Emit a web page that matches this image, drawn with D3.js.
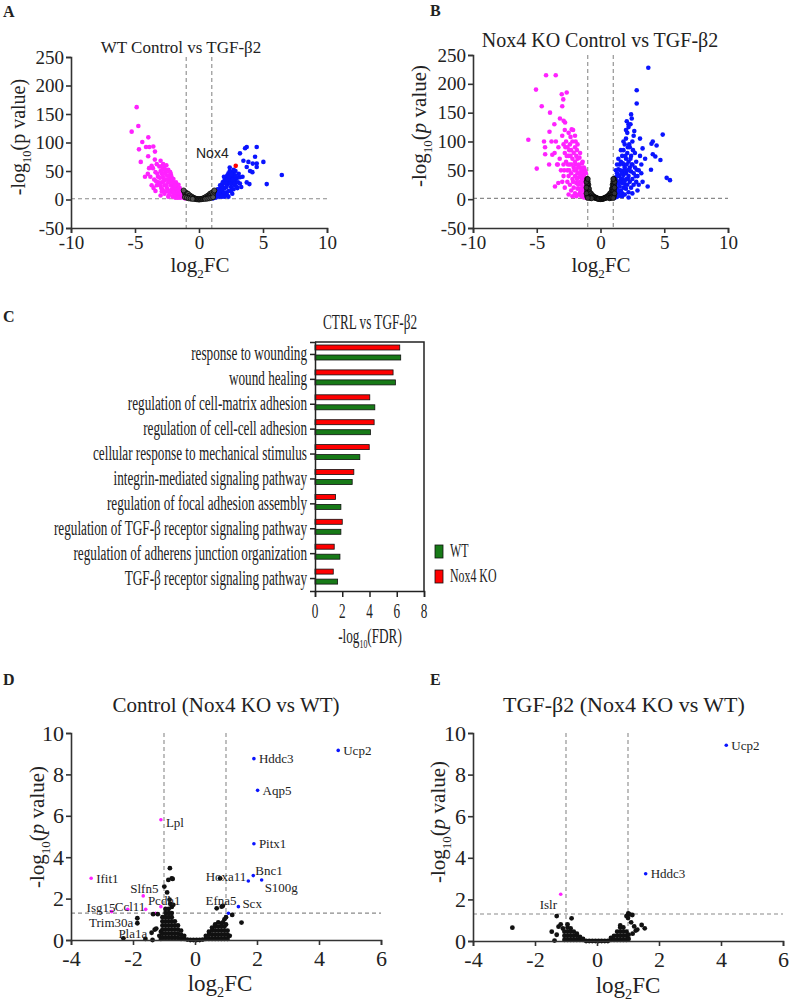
<!DOCTYPE html>
<html><head><meta charset="utf-8">
<script src="https://cdn.jsdelivr.net/npm/d3@7"></script>
<style>
body{margin:0;background:#fff}
svg{display:block}
text{font-family:"Liberation Serif","Times New Roman",serif;fill:#222}
</style>
</head><body>
<svg id="c" width="791" height="1005"></svg>
<script>
// ---------------- DATA ----------------
// Panel A: WT Control vs TGF-β2  [log2FC, -log10 p]
const A_down = [[-4.87,162],[-4.74,129],[-5.26,119],[-3.96,109],[-4.43,101],[-4.14,92],[-3.88,92],[-3.57,93],[-4.69,88],[-3.44,84],[-3.97,76],[-4.55,66],[-3.7,59],[-4.22,40],[-2.91,14],[-3.0,7],
 [-3.6,55],[-3.4,48],[-3.3,62],[-3.2,40],[-3.1,58],[-3.0,68],[-3.0,50],[-2.9,45],[-2.9,30],[-2.8,62],[-2.8,38],[-2.7,55],[-2.7,25],[-2.6,48],[-2.6,35],[-2.5,42],[-2.5,20],[-2.4,52],[-2.4,30],[-2.3,38],[-2.3,15],[-2.2,44],[-2.2,25],[-2.1,32],[-2.1,12],[-2.0,36],[-2.0,20],[-1.9,28],[-1.9,10],[-1.8,30],[-1.8,15],[-1.7,22],[-1.7,8],[-1.6,18],[-1.6,26],[-1.5,12],[-1.5,20],[-1.4,8],[-1.4,15],[-1.3,5],[-1.3,12],[-1.2,3],[-1.2,9],[-1.1,2],[-1.1,6],[-3.3,25],[-3.5,35],[-3.8,40],[-3.9,55],[-3.4,15],[-2.95,20],[-2.65,14],[-2.35,8],[-2.05,5],[-1.85,3],[-2.55,60],[-3.15,30],[-2.75,45],[-2.45,35],[-2.15,18],[-1.95,14],[-1.75,18],[-1.55,6],[-1.45,3],[-3.05,38],[-2.85,52],[-2.25,48],[-4.0,45],[-3.7,25],
 [-3.25,45],[-3.05,25],[-2.95,58],[-2.85,18],[-2.75,32],[-2.65,52],[-2.55,25],[-2.45,15],[-2.35,42],[-2.25,32],[-2.15,40],[-2.05,28],[-1.95,22],[-1.85,25],[-1.75,12],[-1.65,14],[-1.55,16],[-1.45,10],[-1.35,8],[-1.25,6],[-1.15,4],[-3.35,32],[-3.55,20],[-3.45,70],[-2.7,10],[-2.4,5],[-2.0,12],[-1.65,3]];
const A_up = [[3.73,92],[4.51,92],[3.6,90],[3.2,81],[4.38,75],[3.47,68],[3.86,66],[5.03,66],[4.2,63],[4.51,63],[3.73,57],[4.51,57],[3.99,50],[4.17,48],[6.47,43],[3.2,39],[3.73,30],[5.29,27],[3.94,27],
 [1.1,2],[1.15,6],[1.2,4],[1.3,8],[1.3,3],[1.4,12],[1.4,6],[1.5,15],[1.5,9],[1.6,18],[1.6,5],[1.7,22],[1.7,12],[1.8,26],[1.8,16],[1.9,30],[1.9,8],[2.0,34],[2.0,20],[2.1,38],[2.1,12],[2.2,42],[2.2,26],[2.3,46],[2.3,30],[2.3,15],[2.4,50],[2.4,36],[2.5,48],[2.5,22],[2.6,40],[2.6,28],[2.7,45],[2.7,18],[2.8,35],[2.8,25],[2.9,30],[3.0,38],[3.0,20],[3.2,28],[2.2,8],[2.6,10],[1.95,40],[2.45,42],[2.85,50],[3.1,45],[3.4,40],[3.3,22],[2.0,5],[1.6,10],[1.85,20],[2.15,32],[2.55,33],[2.75,38],
 [1.25,10],[1.35,5],[1.45,18],[1.55,12],[1.65,25],[1.75,16],[1.85,30],[1.95,12],[2.05,28],[2.15,22],[2.25,36],[2.35,40],[2.45,28],[2.55,44],[2.65,34],[2.75,28],[2.85,42],[2.95,22],[3.05,30],[2.3,5],[1.8,5],[2.5,15],[2.7,52],[2.4,56]];
const A_ns = [[-1.15,14],[-1.1,10],[-1.05,6],[-1.0,12],[-0.95,9],[-0.9,7],[-0.85,10],[-0.8,6],[-0.75,5],[-0.7,7],[-0.65,4],[-0.6,3],[-0.55,5],[-0.5,2.5],[-0.45,2],[-0.4,3],[-0.35,1.5],[-0.3,1],[-0.25,1.5],[-0.2,0.5],[-0.15,0.8],[-0.1,0.3],[-0.05,0.5],[0,0],[0.05,0.4],[0.1,0.3],[0.15,0.8],[0.2,0.5],[0.25,1.5],[0.3,1],[0.35,1.5],[0.4,3],[0.45,2],[0.5,2.5],[0.55,5],[0.6,3],[0.65,4],[0.7,7],[0.75,5],[0.8,6],[0.85,10],[0.9,7],[0.95,9],[1.0,12],[1.05,6],[1.1,10],[1.15,14],
 [-1.2,16],[-1.1,4],[-0.95,3],[-0.8,2],[-0.65,1.5],[-0.5,1],[0.5,1],[0.65,1.5],[0.8,2],[0.95,3],[1.1,4],[1.2,16]];
const A_hl = [[2.87,59]];
const A_hlName = ["Nox4"];

// Panel B: Nox4 KO Control vs TGF-β2
const B_down = [[-4.27,215],[-3.51,215],[-5.06,190],[-2.65,185],[-3.04,182],[-2.92,173],[-3.0,161],[-4.61,161],[-3.96,150],[-3.18,140],[-2.89,136],[-2.78,133],[-3.62,130],[-4.0,117],[-2.26,121],[-5.66,103],[-4.43,100],[-3.84,100],[-3.5,100],[-4.35,90],[-3.78,77],[-5.0,53],[-3.57,22],[-3.31,28],[-4.03,60],[-3.35,60],[-4.34,78],
 [-3.0,110],[-2.9,95],[-2.8,120],[-2.8,80],[-2.7,100],[-2.7,65],[-2.6,90],[-2.6,50],[-2.5,115],[-2.5,75],[-2.5,40],[-2.4,95],[-2.4,60],[-2.4,25],[-2.3,85],[-2.3,45],[-2.3,15],[-2.2,100],[-2.2,70],[-2.2,35],[-2.1,80],[-2.1,55],[-2.1,20],[-2.0,90],[-2.0,65],[-2.0,40],[-2.0,10],[-1.9,75],[-1.9,50],[-1.9,28],[-1.8,70],[-1.8,45],[-1.8,18],[-1.7,60],[-1.7,38],[-1.7,8],[-1.6,55],[-1.6,30],[-1.6,12],[-1.5,50],[-1.5,25],[-1.5,5],[-1.4,45],[-1.4,20],[-1.3,40],[-1.3,15],[-1.3,3],[-1.2,35],[-1.2,22],[-1.2,8],[-1.1,30],[-1.1,12],[-1.1,2],[-3.2,70],[-3.1,50],[-3.0,30],[-2.9,60],[-2.8,20],[-2.6,30],[-2.9,40],[-3.3,90],[-2.35,108],[-2.15,120],[-1.95,100],[-1.85,85],[-1.65,72],[-1.45,62],[-1.25,52],[-1.15,45],[-1.35,30],[-1.55,40],[-1.75,25],[-2.45,50],[-2.65,75],[-3.4,60],[-3.6,80],
 [-1.15,20],[-1.25,30],[-1.35,8],[-1.45,35],[-1.55,18],[-1.65,45],[-1.75,55],[-1.85,35],[-1.95,60],[-2.05,50],[-2.15,30],[-2.25,60],[-2.35,75],[-2.45,85],[-2.55,60],[-2.75,90],[-2.85,50],[-1.4,65],[-1.6,80],[-1.3,55],[-1.2,48],[-1.8,95],[-2.0,110],[-1.5,15],[-1.7,28],[-1.9,5],[-2.5,8],[-2.2,5]];
const B_up = [[3.75,228],[2.84,189],[2.84,166],[2.4,147],[2.06,135],[2.2,130],[4.88,112],[3.1,105],[4.1,100],[4.0,96],[4.4,93],[4.3,74],[4.1,78],[4.7,68],[3.96,51],[5.19,37],[5.45,33],[3.7,22],[2.84,51],[3.5,70],[3.3,88],[2.6,110],
 [1.1,2],[1.1,15],[1.1,30],[1.2,8],[1.2,25],[1.2,38],[1.3,4],[1.3,18],[1.3,45],[1.4,12],[1.4,30],[1.4,52],[1.5,6],[1.5,22],[1.5,40],[1.5,60],[1.6,15],[1.6,35],[1.6,65],[1.7,10],[1.7,28],[1.7,48],[1.7,75],[1.8,20],[1.8,42],[1.8,60],[1.8,85],[1.9,8],[1.9,32],[1.9,55],[1.9,95],[2.0,18],[2.0,45],[2.0,70],[2.0,105],[2.1,25],[2.1,50],[2.1,80],[2.1,115],[2.2,12],[2.2,40],[2.2,65],[2.2,125],[2.3,30],[2.3,55],[2.3,90],[2.4,20],[2.4,48],[2.4,75],[2.5,35],[2.5,60],[2.5,100],[2.6,25],[2.6,45],[2.7,55],[2.7,80],[2.8,30],[2.8,65],[2.9,40],[3.0,50],[3.0,25],[3.1,75],[3.2,60],[3.3,30],[3.2,45],[2.65,118],[2.35,130],[2.45,140],[1.75,35],[1.85,50],[2.05,60],[1.95,25],[2.15,35],[2.25,95],
 [1.15,22],[1.25,32],[1.35,40],[1.45,28],[1.55,50],[1.65,45],[1.75,62],[1.85,30],[1.95,75],[2.05,35],[2.15,90],[2.25,50],[2.35,70],[2.45,60],[2.55,85],[2.75,40],[1.4,70],[1.6,85],[1.3,60],[1.2,50],[1.8,100],[2.0,120],[1.5,30],[1.7,5],[2.5,10],[2.2,3],[2.9,15]];
const B_ns = [[-1.05,35],[-1.0,30],[-0.95,25],[-1.05,25],[-1.0,20],[-0.95,15],[-1.05,15],[-1.0,10],[-0.95,5],[-1.05,5],[-0.9,18],[-0.9,8],[-0.85,12],[-0.8,8],[-0.75,10],[-0.7,5],[-0.65,7],[-0.6,4],[-0.55,5],[-0.5,3],[-0.45,3.5],[-0.4,2],[-0.35,2.5],[-0.3,1.5],[-0.25,1],[-0.2,1],[-0.15,0.5],[-0.1,0.3],[0,0],[0.1,0.3],[0.15,0.5],[0.2,1],[0.25,1],[0.3,1.5],[0.35,2.5],[0.4,2],[0.45,3.5],[0.5,3],[0.55,5],[0.6,4],[0.65,7],[0.7,5],[0.75,10],[0.8,8],[0.85,12],[0.9,8],[0.9,18],[0.95,5],[1.05,5],[1.0,10],[0.95,15],[1.05,15],[1.0,20],[0.95,25],[1.05,25],[1.0,30],[1.05,35],
 [-1.1,30],[-1.1,20],[-1.1,10],[1.1,30],[1.1,20],[1.1,10],[-1.0,35],[1.0,35],[-0.9,3],[-0.8,2],[-0.7,1.5],[0.7,1.5],[0.8,2],[0.9,3],[-1.0,2],[1.0,2]];

// Panel C: GO terms, -log10(FDR)
const goTerms = ["response to wounding","wound healing","regulation of cell-matrix adhesion","regulation of cell-cell adhesion","cellular response to mechanical stimulus","integrin-mediated signaling pathway","regulation of focal adhesion assembly","regulation of TGF-β receptor signaling pathway","regulation of adherens junction organization","TGF-β receptor signaling pathway"];
const goKO = [6.22,5.73,4.02,4.34,3.98,2.85,1.51,2.0,1.41,1.34];
const goWT = [6.29,5.9,4.39,4.07,3.29,2.73,1.9,1.9,1.83,1.66];
const goSeries = ["Nox4 KO","WT"];
const goTicks = [0,2,4,6,8];

// Panel D: Control (Nox4 KO vs WT)
const D_upGenes = ["Ucp2","Hddc3","Aqp5","Pitx1","Bnc1","Hoxa11","S100g","Scx","Efna5"];
const D_up = [[4.62,9.16],[1.90,8.76],[2.02,7.23],[1.90,4.65],[1.88,3.11],[1.72,2.85],[2.15,2.90],[1.40,1.61],[1.08,1.29]];
const D_downGenes = ["Lpl","Ifit1","Slfn5","Pcdh1","Ccl11","Isg15","",""];
const D_down = [[-1.10,5.81],[-3.35,2.98],[-1.67,2.13],[-1.10,1.61],[-2.17,1.48],[-2.69,1.37],[-1.59,1.48],[-1.27,1.29]];
const D_nsGenes = ["Trim30a","Pla1a"];
const D_nsLab = [[-1.86,0.81],[-2.31,0.08]];
const D_ns = [[-0.81,3.47],[-0.86,2.9],[-0.75,2.98],[-0.72,2.95],[-0.99,2.58],[-0.9,2.3],[-0.82,1.95],[-0.8,1.75],[-0.75,1.6],[-0.7,1.7],[-1.86,1.05],[-1.37,0.0],[-1.3,0.5],[-1.25,0.55],[-1.35,1.25],[-1.2,1.25],[-1.4,0.35],[-1.15,0.2],[-1.1,0.4],[-1.6,0.05],[-1.1,0.05],
 [-1.05,0.1],[-1.05,0.3],[-1.05,0.5],[-1.05,0.7],[-1.05,0.9],[-1.05,1.1],
 [-0.95,0.1],[-0.95,0.3],[-0.95,0.5],[-0.95,0.7],[-0.95,0.9],[-0.95,1.1],[-0.95,1.3],[-0.95,1.5],
 [-0.85,0.1],[-0.85,0.3],[-0.85,0.5],[-0.85,0.7],[-0.85,0.9],[-0.85,1.1],[-0.85,1.3],[-0.85,1.5],
 [-0.75,0.1],[-0.75,0.3],[-0.75,0.5],[-0.75,0.7],[-0.75,0.9],[-0.75,1.1],[-0.75,1.3],
 [-0.65,0.1],[-0.65,0.3],[-0.65,0.5],[-0.65,0.7],[-0.65,0.9],
 [-0.55,0.1],[-0.55,0.3],[-0.55,0.5],[-0.55,0.7],
 [-0.45,0.05],[-0.45,0.25],[-0.45,0.45],
 [-0.35,0.05],[-0.35,0.2],
 [-0.25,0.02],[-0.15,0],[-0.05,0],[0.05,0],[0.15,0],[0.25,0.02],
 [0.35,0.05],[0.35,0.2],
 [0.45,0.05],[0.45,0.25],[0.45,0.4],
 [0.55,0.05],[0.55,0.25],[0.55,0.45],[0.55,0.6],
 [0.65,0.05],[0.65,0.25],[0.65,0.45],[0.65,0.65],[0.65,0.75],
 [0.75,0.05],[0.75,0.25],[0.75,0.45],[0.75,0.65],[0.75,0.85],
 [0.85,0.05],[0.85,0.25],[0.85,0.45],[0.85,0.65],[0.85,0.8],
 [0.95,0.05],[0.95,0.25],[0.95,0.45],[0.95,0.65],
 [1.05,0.05],[1.05,0.25],[1.05,0.45],[1.12,0.2],[0.9,0.85],[1.0,0.75],
 [0.70,1.53],[0.86,1.61],[0.81,2.98],[0.9,1.65],[1.2,1.21],[1.5,0.84],[1.0,1.1],[0.95,1.0]];

// Panel E: TGF-β2 (Nox4 KO vs WT)
const E_upGenes = ["Ucp2","Hddc3"];
const E_up = [[4.17,9.41],[1.57,3.23]];
const E_downGenes = ["Islr"];
const E_down = [[-1.17,2.25]];
const E_ns = [[-2.73,0.64],[-1.30,1.2],[-1.46,0.45],[-1.37,0.02],[-1.24,0.69],[-1.17,0.8],[-0.82,1.09],[-1.3,0.3],[-1.1,0.6],
 [1.01,1.33],[1.05,1.28],[1.14,1.25],[1.44,0.77],[1.54,0.61],[1.2,0.7],[1.25,0.5],[1.1,0.9],[1.3,0.55],[1.15,0.35],
 [-1.05,0.05],[-1.05,0.25],[-1.05,0.45],
 [-0.95,0.05],[-0.95,0.25],[-0.95,0.45],[-0.95,0.65],[-0.95,0.8],
 [-0.85,0.05],[-0.85,0.25],[-0.85,0.45],[-0.85,0.6],
 [-0.75,0.05],[-0.75,0.25],[-0.75,0.45],
 [-0.65,0.05],[-0.65,0.25],[-0.65,0.35],
 [-0.55,0.05],[-0.55,0.2],
 [-0.45,0.05],[-0.45,0.1],
 [-0.35,0],[-0.25,0],[-0.15,0],[-0.05,0],[0.05,0],[0.15,0],[0.25,0],[0.35,0],
 [0.45,0.05],[0.45,0.15],
 [0.55,0.05],[0.55,0.25],
 [0.65,0.05],[0.65,0.25],[0.65,0.45],
 [0.75,0.05],[0.75,0.25],[0.75,0.45],[0.75,0.65],[0.75,0.75],
 [0.85,0.05],[0.85,0.25],[0.85,0.45],[0.85,0.65],
 [0.95,0.05],[0.95,0.25],[0.95,0.45],
 [1.02,0.1],[1.02,0.3],[1.0,1.1],[0.95,1.2]];

// tick values
const wideXTicks = [-10,-5,0,5,10];
const wideYTicks = [-50,0,50,100,150,200,250];
const narrowXTicks = [-4,-2,0,2,4,6];
const narrowYTicks = [0,2,4,6,8,10];

// ---------------- DRAW ----------------
const svg = d3.select("#c");
const MAG = "#ff22ff", BLU = "#0a14ff", RED = "#ff0000";

// label placement offsets (px) — styling only
const labelPos = {
  Ucp2:[5,0,"start"],Hddc3:[5,0,"start"],Aqp5:[5,0,"start"],Lpl:[5,3,"start"],Pitx1:[5,0,"start"],
  Bnc1:[2,-5,"start"],Hoxa11:[-2,-5,"end"],S100g:[3,7,"start"],Ifit1:[5,0,"start"],Slfn5:[-13,-7,"start"],
  Pcdh1:[-13,-6,"start"],Ccl11:[-13,-3,"start"],Isg15:[-25,-4,"start"],Trim30a:[-4,-1,"end"],Pla1a:[-5,-5,"start"],
  Efna5:[-23,-13,"start"],Scx:[4,-3,"start"],Islr:[-21,10,"start"]
};

function ylabel(g, cx, cy, fs, italicP){
  const t = g.append("text").attr("transform","rotate(-90)").attr("x",-cy).attr("y",cx)
    .attr("text-anchor","middle").style("font-size",fs+"px");
  t.append("tspan").text("-log");
  t.append("tspan").text("10").style("font-size",(fs*0.62)+"px").attr("dy",fs*0.28);
  t.append("tspan").text("(").attr("dy",-fs*0.28);
  t.append("tspan").text("p").style("font-style",italicP?"italic":"normal");
  t.append("tspan").text(" value)");
}
function xlabel(g, cx, by, fs){
  const t = g.append("text").attr("x",cx).attr("y",by).attr("text-anchor","middle").style("font-size",fs+"px");
  t.append("tspan").text("log");
  t.append("tspan").text("2").style("font-size",(fs*0.62)+"px").attr("dy",fs*0.28);
  t.append("tspan").text("FC").attr("dy",-fs*0.28);
}

function volcano(o){
  const g = svg.append("g");
  const x = d3.scaleLinear().domain(o.xd).range([o.l,o.r]);
  const y = d3.scaleLinear().domain(o.yd).range([o.b,o.t]);
  const dash = {stroke:"#8a8a8a","stroke-width":1.1,"stroke-dasharray":"4,3"};
  const dl = (x1,y1,x2,y2)=>{const l=g.append("line").attr("x1",x1).attr("y1",y1).attr("x2",x2).attr("y2",y2);for(const k in dash)l.attr(k,dash[k]);};
  dl(x(-1),o.t,x(-1),o.b); dl(x(1),o.t,x(1),o.b); dl(o.l,y(1.3),o.r,y(1.3));
  const dots = (arr, col, rad, stroke) => g.append("g").selectAll("circle").data(arr).join("circle")
      .attr("cx",d=>x(d[0])).attr("cy",d=>y(d[1])).attr("r",rad).attr("fill",col)
      .attr("stroke",stroke||"none").attr("stroke-width",0.7);
  dots(o.down,MAG,o.rad);
  dots(o.up,BLU,o.rad);
  if(o.hl) dots(o.hl,RED,o.rad);
  dots(o.ns,o.nsFill||"#111",o.nsRad,o.nsStroke);
  if(o.nsLab) dots(o.nsLab,"#111",o.nsRad);
  // axes
  const fmt = d=>String(d);
  const xa = g.append("g").attr("transform",`translate(0,${o.b})`)
    .call(d3.axisBottom(x).tickValues(o.xt).tickSize(5).tickPadding(o.xpad).tickFormat(fmt));
  const ya = g.append("g").attr("transform",`translate(${o.l},0)`)
    .call(d3.axisLeft(y).tickValues(o.yt).tickSize(5).tickPadding(2).tickFormat(fmt));
  [xa,ya].forEach(a=>{
    a.selectAll("path,line").attr("stroke","#333").attr("stroke-width",1.6);
    a.selectAll("text").style("font-size",o.tfs+"px").style("font-family",'"Liberation Serif",serif').attr("fill","#222");
  });
  // gene labels
  const lab = (names, arr) => names.forEach((n,i)=>{
    if(!n||!labelPos[n]) return;
    const p = labelPos[n];
    g.append("text").attr("x",x(arr[i][0])+p[0]).attr("y",y(arr[i][1])+p[1]).attr("dy","0.35em")
      .attr("text-anchor",p[2]).style("font-size","13px").attr("fill","#333").text(n);
  });
  if(o.upGenes) lab(o.upGenes,o.up);
  if(o.downGenes) lab(o.downGenes,o.down);
  if(o.nsGenes) lab(o.nsGenes,o.nsLab);
  return {g,x,y};
}

// Panel A
const pA = volcano({l:71,r:327,t:57,b:228,xd:[-10,10],yd:[-50,250],xt:wideXTicks,yt:wideYTicks,tfs:19,xpad:3,rad:2.3,nsRad:2.5,nsFill:"#555",nsStroke:"#000",
  down:A_down,up:A_up,ns:A_ns,hl:A_hl});
pA.g.append("text").attr("x",196).attr("y",158).style("font-family",'"Liberation Sans",Arial,sans-serif')
  .style("font-size","14px").attr("fill","#111").text(A_hlName[0]);
svg.append("text").attr("x",181).attr("y",53).attr("text-anchor","middle").style("font-size","17px").text("WT Control vs TGF-β2");
ylabel(svg,25,137,20,false);
xlabel(svg,200,272,21);

// Panel B
volcano({l:473,r:728,t:55,b:228,xd:[-10,10],yd:[-50,250],xt:wideXTicks,yt:wideYTicks,tfs:19,xpad:3,rad:2.3,nsRad:2.5,nsFill:"#333",nsStroke:"#000",
  down:B_down,up:B_up,ns:B_ns});
svg.append("text").attr("x",600).attr("y",47).attr("text-anchor","middle").style("font-size","20px").text("Nox4 KO Control vs TGF-β2");
ylabel(svg,426,126,21,true);
xlabel(svg,601,272,21);

// Panel D
volcano({l:71,r:381,t:733,b:940,xd:[-4,6],yd:[0,10],xt:narrowXTicks,yt:narrowYTicks,tfs:22,xpad:5,rad:1.8,nsRad:2.4,
  down:D_down,up:D_up,ns:D_ns,nsLab:D_nsLab,upGenes:D_upGenes,downGenes:D_downGenes,nsGenes:D_nsGenes});
svg.append("text").attr("x",226).attr("y",712).attr("text-anchor","middle").style("font-size","21px").text("Control (Nox4 KO vs WT)");
ylabel(svg,44,827,21,true);
xlabel(svg,220,991,23);

// Panel E
volcano({l:473,r:783,t:733,b:941,xd:[-4,6],yd:[0,10],xt:narrowXTicks,yt:narrowYTicks,tfs:22,xpad:5,rad:1.8,nsRad:2.4,
  down:E_down,up:E_up,ns:E_ns,upGenes:E_upGenes,downGenes:E_downGenes});
svg.append("text").attr("x",624).attr("y",712).attr("text-anchor","middle").style("font-size","22px").text("TGF-β2 (Nox4 KO vs WT)");
ylabel(svg,445,822,21,true);
xlabel(svg,628,993,23);

// Panel C
(function(){
  const L=315,R=424,T=342,B=591, SX=0.66;
  const g = svg.append("g");
  const x = d3.scaleLinear().domain([0,8]).range([L,R]);
  const yb = d3.scaleBand().domain(goTerms).range([T,B]);
  const ys = d3.scaleBand().domain(goSeries).range([3,18]).paddingInner(0.5);
  const colors = {"Nox4 KO":RED,"WT":"#177a17"};
  const rows = goTerms.map((t,i)=>({t,v:{"Nox4 KO":goKO[i],"WT":goWT[i]}}));
  rows.forEach(r=>{
    goSeries.forEach(s=>{
      g.append("rect").attr("x",x(0)).attr("y",yb(r.t)+ys(s)).attr("width",x(r.v[s])-x(0)).attr("height",ys.bandwidth())
        .attr("fill",colors[s]).attr("stroke","#111").attr("stroke-width",0.8);
    });
  });
  // frame
  g.append("path").attr("d",`M${L},${T}H${R}V${B}`).attr("fill","none").attr("stroke","#222").attr("stroke-width",1.5);
  const ya = g.append("g").attr("transform",`translate(${L},0)`).call(d3.axisLeft(yb).tickSize(5).tickFormat(""));
  ya.selectAll("path,line").attr("stroke","#222").attr("stroke-width",1.5);
  const xa = g.append("g").attr("transform",`translate(0,${B})`).call(d3.axisBottom(x).tickValues(goTicks).tickSize(6).tickFormat(""));
  xa.selectAll("path,line").attr("stroke","#222").attr("stroke-width",1.5);
  const ct = (tx,ty,anchor,fs,txt)=>g.append("text").attr("transform",`translate(${tx},${ty}) scale(${SX},1)`)
      .attr("text-anchor",anchor).style("font-size",fs+"px").text(txt);
  goTicks.forEach(v=>ct(x(v),618,"middle",20,String(v)));
  goTerms.forEach(t=>ct(307,yb(t)+yb.bandwidth()/2+6,"end",20,t));
  ct(370,329,"middle",20,"CTRL vs TGF-β2");
  // x label
  const xl = g.append("text").attr("transform",`translate(370,643) scale(${SX},1)`).attr("text-anchor","middle").style("font-size","20px");
  xl.append("tspan").text("-log");
  xl.append("tspan").text("10").style("font-size","12px").attr("dy",5);
  xl.append("tspan").text("(FDR)").attr("dy",-5);
  // legend
  const leg = [["WT",goWT],["Nox4 KO",goKO]];
  leg.forEach((d,i)=>{
    g.append("rect").attr("x",435).attr("y",545+i*25).attr("width",8).attr("height",13)
      .attr("fill",colors[d[0]]).attr("stroke","#111").attr("stroke-width",0.8);
    ct(450,557+i*25,"start",18,d[0]);
  });
})();

// Panel letters
[["A",3,17],["B",430,16],["C",3,322],["D",3,685],["E",430,685]].forEach(d=>{
  svg.append("text").attr("x",d[1]).attr("y",d[2]).style("font-size","16px").style("font-weight","bold").attr("fill","#111").text(d[0]);
});
</script>
</body></html>
